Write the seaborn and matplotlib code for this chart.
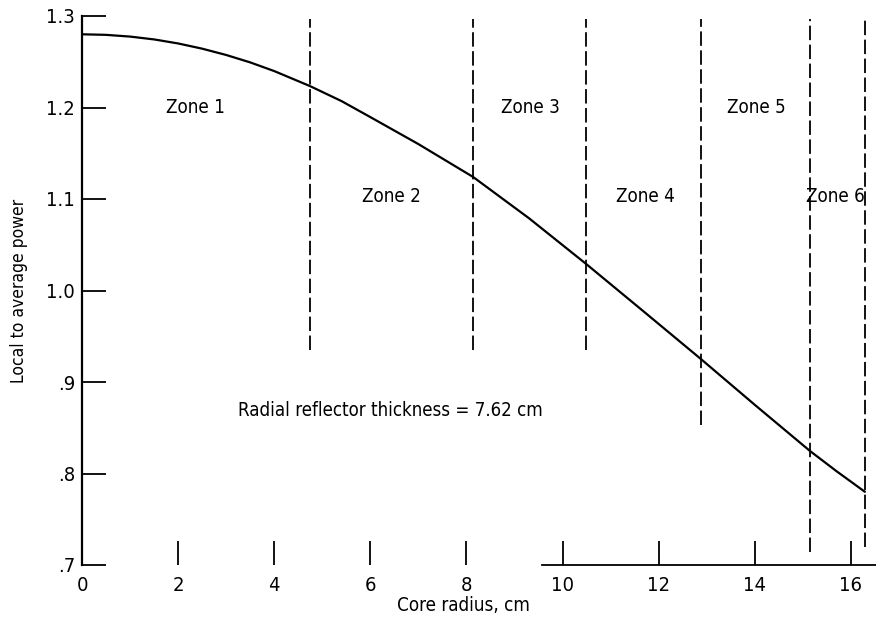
import matplotlib
matplotlib.use("Agg")
import matplotlib.pyplot as plt
import seaborn as sns
import pandas as pd

# ---- data ----
radius = [0, 0.5, 1.0, 1.5, 2.0, 2.5, 3.0, 3.5, 4.0, 4.74, 5.4, 6.0, 7.0, 8.14,
          9.3, 10.49, 11.7, 12.88, 14.0, 15.15, 15.7, 16.29]
power = [1.2800, 1.2794, 1.2775, 1.2744, 1.2700, 1.2643, 1.2574, 1.2493, 1.2398,
         1.2235, 1.2070, 1.1895, 1.1600, 1.1240, 1.0790, 1.0290, 0.9765, 0.9250,
         0.8750, 0.8245, 0.8025, 0.7800]
zone_bounds = [4.74, 8.14, 10.49, 12.88, 15.15, 16.29]
zone_line_bottom = [0.935, 0.935, 0.935, 0.853, 0.714, 0.72]
zone_names = ["Zone 1", "Zone 2", "Zone 3", "Zone 4", "Zone 5", "Zone 6"]
zone_label_x = [2.37, 6.43, 9.34, 11.73, 14.03, 15.68]
zone_label_y = [1.2, 1.103, 1.2, 1.103, 1.2, 1.103]
x_ticks = [0, 2, 4, 6, 8, 10, 12, 14, 16]
y_ticks = [0.7, 0.8, 0.9, 1.0, 1.1, 1.2, 1.3]
y_tick_labels = [".7", ".8", ".9", "1.0", "1.1", "1.2", "1.3"]
note = "Radial reflector thickness = 7.62 cm"

sns.set_theme(style="white")
plt.rcParams['font.family'] = ['DejaVu Sans']
plt.rcParams['font.stretch'] = 'condensed'

fig = plt.figure(figsize=(8.76, 6.19), dpi=100)
ax = fig.add_axes([82 / 876, 54 / 619, 794 / 876, 549 / 619])

df = pd.DataFrame({"r": radius, "p": power})
sns.lineplot(data=df, x="r", y="p", ax=ax, color="black", linewidth=1.6)

ax.vlines(zone_bounds, zone_line_bottom, [1.297] * len(zone_bounds),
          colors="black", linewidth=1.3, linestyles=(0, (8, 2.5)))

for name, zx, zy in zip(zone_names, zone_label_x, zone_label_y):
    ax.text(zx, zy, name, ha="center", va="center", fontsize=13.5, color="black",
            fontstretch="condensed")

ax.text(6.41, 0.869, note, ha="center", va="center", fontsize=13.4, color="black",
        fontstretch="condensed")

ax.set_xlim(0, 794 / 48.06)
ax.set_ylim(0.7, 1.3)
ax.set_xticks(x_ticks)
ax.set_xticklabels([str(t) for t in x_ticks])
ax.set_yticks(y_ticks)
ax.set_yticklabels(y_tick_labels)
ax.tick_params(axis="both", direction="in", length=17, width=1.3, colors="black",
               labelsize=14.5, pad=5, bottom=True, left=True)
ax.tick_params(axis="x", pad=8)

for s in ["top", "right"]:
    ax.spines[s].set_visible(False)
ax.spines["left"].set_color("black")
ax.spines["left"].set_linewidth(1.6)
ax.spines["bottom"].set_color("black")
ax.spines["bottom"].set_linewidth(1.3)
ax.spines["bottom"].set_bounds(9.57, 794 / 48.06)

ax.set_xlabel("Core radius, cm", fontsize=13.5, color="black")
ax.set_ylabel("Local to average power", fontsize=12.5, color="black")
ax.xaxis.set_label_coords(0.481, -0.056)
ax.yaxis.set_label_coords(-0.068, 0.5)

fig.savefig("out.png", dpi=100)
